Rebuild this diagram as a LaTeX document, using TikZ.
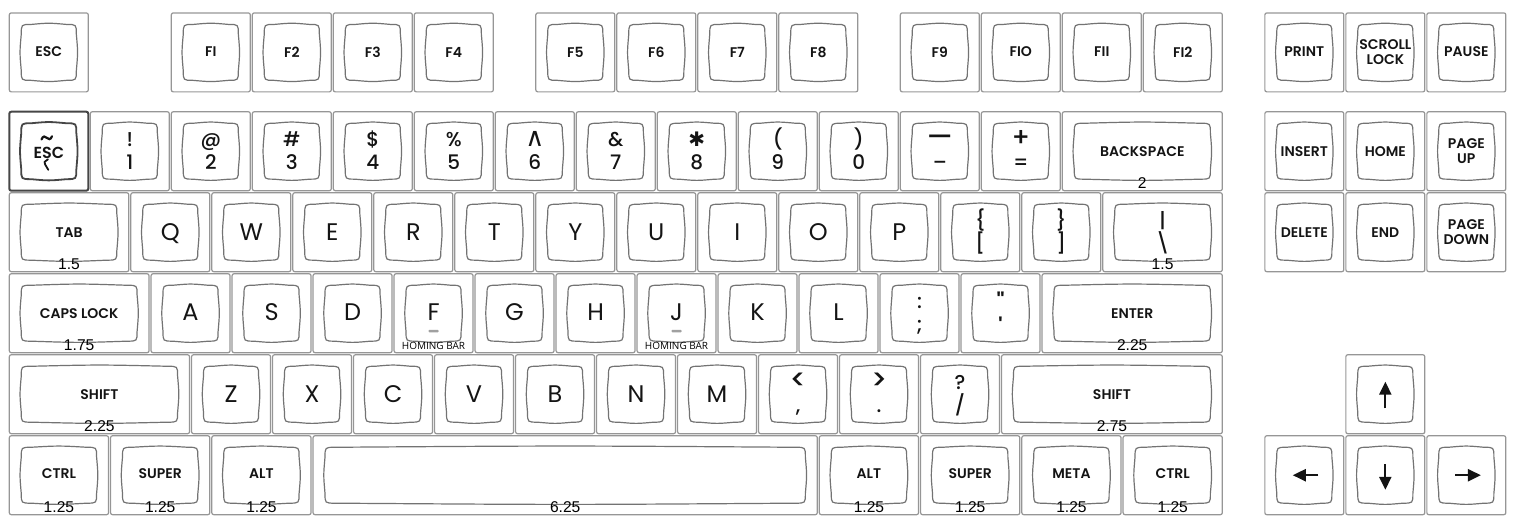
\documentclass[tikz,border=0pt]{standalone}
\usepackage{fontspec}
\usetikzlibrary{arrows.meta}
\setmainfont{Poppins}
\IfFontExistsTF{Poppins SemiBold}{\newfontfamily\modfont{Poppins SemiBold}}{\newfontfamily\modfont{Poppins}[FakeBold=1.2]}
\IfFontExistsTF{Poppins Medium}{\newfontfamily\glyphfont{Poppins Medium}}{\newfontfamily\glyphfont{Poppins}[FakeBold=0.6]}
\newfontfamily\sizefont{Liberation Sans}
\newfontfamily\barfont{Open Sans}
\newfontfamily\symfont{DejaVu Sans}

\definecolor{framecolor}{RGB}{150,150,150}
\definecolor{capcolor}{RGB}{115,115,115}
\definecolor{legendcolor}{RGB}{20,20,20}
\definecolor{barcolor}{RGB}{160,160,160}
\definecolor{darkcolor}{RGB}{70,70,70}

% one key: left x, top y, width (key units)
\newcommand{\keycap}[3]{%
  \draw[keyframe] (#1+0.0125,#2+0.0125) rectangle (#1+#3-0.0125,#2+0.9875);
  \pgfmathsetmacro{\xa}{#1+0.16}
  \pgfmathsetmacro{\xb}{#1+#3-0.16}
  \pgfmathsetmacro{\xm}{#1+#3/2}
  \pgfmathsetmacro{\ya}{#2+0.155}
  \pgfmathsetmacro{\yb}{#2+0.845}
  \pgfmathsetmacro{\ym}{#2+0.5}
  \draw[keycap] (\xa+0.12,\ya) .. controls (\xm,\ya-0.02) .. (\xb-0.12,\ya)
    .. controls (\xb,\ya) .. (\xb,\ya+0.12)
    .. controls (\xb+0.02,\ym) .. (\xb,\yb-0.12)
    .. controls (\xb,\yb) .. (\xb-0.12,\yb)
    .. controls (\xm,\yb+0.02) .. (\xa+0.12,\yb)
    .. controls (\xa,\yb) .. (\xa,\yb-0.12)
    .. controls (\xa-0.02,\ym) .. (\xa,\ya+0.12)
    .. controls (\xa,\ya) .. (\xa+0.12,\ya) -- cycle;
}

\begin{document}
\begin{tikzpicture}[x=40.5pt,y=-40.5pt,
    keyframe/.style={draw=framecolor,line width=0.6pt,rounded corners=1pt},
    keycap/.style={draw=capcolor,line width=0.6pt},
    letter/.style={font=\fontsize{12}{12}\selectfont,text=legendcolor,inner sep=0pt,text height=8.4pt,text depth=0pt},
    glyph/.style={font=\glyphfont\fontsize{10}{10}\selectfont,text=legendcolor,inner sep=0pt,text height=7pt,text depth=0pt},
    modlabel/.style={font=\modfont\fontsize{7}{7.8}\selectfont,text=legendcolor,inner sep=0pt,align=center},
    sizelabel/.style={font=\sizefont\fontsize{7.8}{7.8}\selectfont,inner sep=0pt,text height=5.6pt,text depth=0pt},
    barlabel/.style={font=\barfont\fontsize{5}{5}\selectfont,inner sep=0pt,text height=3.6pt,text depth=0pt},
    arrowglyph/.style={draw=legendcolor,line width=1.1pt,-{Triangle[length=6.5pt,width=6pt]}}]
  \useasboundingbox (-0.1025,-1.3667) rectangle (18.638,5.1395);

  % Function row
  \keycap{0}{-1.22}{1}
  \node[modlabel] (esc) at (0.5,-0.725) {ESC};
  \foreach \x/\lab [count=\i] in {2/FI,3/F2,4/F3,5/F4,6.5/F5,7.5/F6,8.5/F7,9.5/F8,11/F9,12/FIO,13/FII,14/FI2} {
    \keycap{\x}{-1.22}{1}
    \node[modlabel] (fkey-\i) at (\x+0.5,-0.725) {\lab};
  }
  \foreach \x/\lab [count=\i] in {15.5/PRINT,16.5/{SCROLL\\LOCK},17.5/PAUSE} {
    \keycap{\x}{-1.22}{1}
    \node[modlabel] (sys-\i) at (\x+0.5,-0.725) {\lab};
  }

  % Number row, the grave key first
  \begin{scope}[keyframe/.append style={draw=darkcolor,line width=1pt},keycap/.append style={draw=darkcolor,line width=0.9pt}]
    \keycap{0}{0}{1}
  \end{scope}
  \node[modlabel,font=\modfont\fontsize{8}{8}\selectfont] (grave) at (0.5,0.515) {ESC};
  \draw[legendcolor,line width=1.1pt,line cap=round] (0.41,0.355) .. controls (0.43,0.305) and (0.455,0.315) .. (0.475,0.335)
    .. controls (0.495,0.355) and (0.52,0.365) .. (0.54,0.315);
  \draw[legendcolor,line width=0.9pt,line cap=round] (0.49,0.6) .. controls (0.44,0.635) .. (0.455,0.665) -- (0.494,0.73);
  \foreach \x/\up/\dn in {1/!/1,2/@/2,3/\#/3,4/\$/4,5/\%/5,6/{\symfont\fontsize{13}{13}\selectfont ∧}/6,7/\&/7,8/{\symfont ✱}/8,9/{(}/9,10/{)}/0,11/{\fontsize{14}{14}\selectfont —}/–,12/{\fontsize{13}{13}\selectfont +}/=} {
    \keycap{\x}{0}{1}
    \node[glyph] (shift-\x) at (\x+0.5,0.355) {\up};
    \node[glyph] (base-\x) at (\x+0.5,0.645) {\dn};
  }
  \keycap{13}{0}{2}
  \node[modlabel] (bksp) at (14,0.5) {BACKSPACE};
  \node[sizelabel] (bksp-size) at (14,0.89) {2};

  % Top row
  \keycap{0}{1}{1.5}
  \node[modlabel] (tab) at (0.75,1.5) {TAB};
  \node[sizelabel] (tab-size) at (0.75,1.89) {1.5};
  \foreach \l [count=\i from 0] in {Q,W,E,R,T,Y,U,I,O,P} {
    \pgfmathsetmacro{\x}{1.5+\i}
    \keycap{\x}{1}{1}
    \node[letter] (\l) at (\x+0.5,1.5) {\l};
  }
  \foreach \x/\up/\dn [count=\i] in {11.5/\{/{[},12.5/\}/{]}} {
    \keycap{\x}{1}{1}
    \node[glyph] (brace-\i) at (\x+0.5,1.355) {\up};
    \node[glyph] (bracket-\i) at (\x+0.5,1.645) {\dn};
  }
  \keycap{13.5}{1}{1.5}
  \node[glyph] (pipe) at (14.25,1.355) {|};
  \node[glyph] (bslash) at (14.25,1.645) {\textbackslash};
  \node[sizelabel] (bslash-size) at (14.25,1.89) {1.5};

  % Home row
  \keycap{0}{2}{1.75}
  \node[modlabel] (caps) at (0.875,2.5) {CAPS LOCK};
  \node[sizelabel] (caps-size) at (0.875,2.89) {1.75};
  \foreach \l [count=\i from 0] in {A,S,D,F,G,H,J,K,L} {
    \pgfmathsetmacro{\x}{1.75+\i}
    \keycap{\x}{2}{1}
    \node[letter] (\l) at (\x+0.5,2.49) {\l};
  }
  \foreach \x [count=\i] in {5.25,8.25} {
    \fill[barcolor,rounded corners=0.4pt] (\x-0.062,2.705) rectangle (\x+0.062,2.735);
    \node[barlabel] (homing-\i) at (\x,2.9) {HOMING BAR};
  }
  \keycap{10.75}{2}{1}
  \node[glyph] (colon) at (11.25,2.355) {:};
  \node[glyph] (semicolon) at (11.25,2.645) {;};
  \keycap{11.75}{2}{1}
  \node[font=\modfont\fontsize{11}{11}\selectfont,text=legendcolor,inner sep=0pt,anchor=base] (dquote) at (12.25,2.455) {\textquotedbl};
  \node[font=\modfont\fontsize{11}{11}\selectfont,text=legendcolor,inner sep=0pt,anchor=base] (squote) at (12.25,2.76) {\textquotesingle};
  \keycap{12.75}{2}{2.25}
  \node[modlabel] (enter) at (13.875,2.5) {ENTER};
  \node[sizelabel] (enter-size) at (13.875,2.89) {2.25};

  % Bottom letter row
  \keycap{0}{3}{2.25}
  \node[modlabel] (lshift) at (1.125,3.5) {SHIFT};
  \node[sizelabel] (lshift-size) at (1.125,3.89) {2.25};
  \foreach \l [count=\i from 0] in {Z,X,C,V,B,N,M} {
    \pgfmathsetmacro{\x}{2.25+\i}
    \keycap{\x}{3}{1}
    \node[letter] (\l) at (\x+0.5,3.5) {\l};
  }
  \foreach \x/\up/\dn [count=\i] in {9.25/{\fontsize{14}{14}\selectfont <}/{,},10.25/{\fontsize{14}{14}\selectfont >}/{.},11.25/?/{/}} {
    \keycap{\x}{3}{1}
    \node[glyph] (angle-\i) at (\x+0.5,3.355) {\up};
    \node[glyph] (stop-\i) at (\x+0.5,3.645) {\dn};
  }
  \keycap{12.25}{3}{2.75}
  \node[modlabel] (rshift) at (13.625,3.5) {SHIFT};
  \node[sizelabel] (rshift-size) at (13.625,3.89) {2.75};

  % Space row
  \foreach \x/\lab [count=\i] in {0/CTRL,1.25/SUPER,2.5/ALT,10/ALT,11.25/SUPER,12.5/META,13.75/CTRL} {
    \keycap{\x}{4}{1.25}
    \node[modlabel] (mod-\i) at (\x+0.625,4.48) {\lab};
    \node[sizelabel] (mod-size-\i) at (\x+0.625,4.89) {1.25};
  }
  \keycap{3.75}{4}{6.25}
  \node[sizelabel] (space-size) at (6.875,4.89) {6.25};

  % Navigation block
  \foreach \x/\lab [count=\i] in {15.5/INSERT,16.5/HOME,17.5/{PAGE\\UP}} {
    \keycap{\x}{0}{1}
    \node[modlabel] (nav-\i) at (\x+0.5,0.5) {\lab};
  }
  \foreach \x/\lab [count=\i] in {15.5/DELETE,16.5/END,17.5/{PAGE\\DOWN}} {
    \keycap{\x}{1}{1}
    \node[modlabel] (edit-\i) at (\x+0.5,1.5) {\lab};
  }

  % Arrow keys
  \keycap{16.5}{3}{1}
  \keycap{15.5}{4}{1}
  \keycap{16.5}{4}{1}
  \keycap{17.5}{4}{1}
  \draw[arrowglyph] (17,3.675) -- (17,3.345);
  \draw[arrowglyph] (16.173,4.5) -- (15.857,4.5);
  \draw[arrowglyph] (17,4.365) -- (17,4.68);
  \draw[arrowglyph] (17.86,4.5) -- (18.18,4.5);
\end{tikzpicture}
\end{document}
